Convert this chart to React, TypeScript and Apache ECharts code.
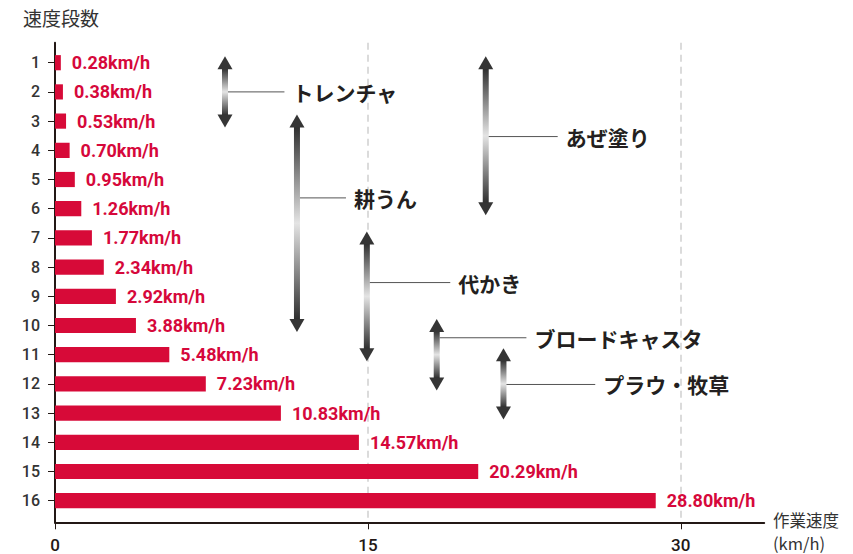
import React, { useEffect, useRef } from 'react';
import * as echarts from 'echarts';

// ---- data ----
const speedSteps = [1, 2, 3, 4, 5, 6, 7, 8, 9, 10, 11, 12, 13, 14, 15, 16];
const speedValues = [0.28, 0.38, 0.53, 0.7, 0.95, 1.26, 1.77, 2.34, 2.92, 3.88, 5.48, 7.23, 10.83, 14.57, 20.29, 28.8];
const xTickValues = [0, 15, 30];
const xAxisNameLines = ['作業速度', '(km/h)'];
const workNames = ['トレンチャ', '耕うん', 'あぜ塗り', '代かき', 'ブロードキャスタ', 'プラウ・牧草'];
const workStepFrom = [1, 3, 1, 7, 10, 11];
const workStepTo = [3, 10, 6, 11, 12, 13];

// ---- annotation layout (in axis units) ----
const arrowXs = [8.15, 11.6, 20.65, 14.95, 18.3, 21.5];
const leaderSteps = [2, 5.63, 3.53, 8.53, 10.42, 12.02];
const leaderEndXs = [11.0, 13.95, 24.1, 18.95, 22.6, 25.9];

export default function App() {
  const ref = useRef<HTMLDivElement>(null);

  useEffect(() => {
    const chart = echarts.init(ref.current!, undefined, { renderer: 'svg' });

    const barData = speedValues.map((v, i) => [v, speedSteps[i]]);
    const workData = workNames.map((n, i) => ({
      name: n,
      value: [arrowXs[i], workStepFrom[i], workStepTo[i], leaderSteps[i], leaderEndXs[i]],
    }));

    const nameStyle = {
      fill: '#333',
      fontSize: 16.5,
      lineHeight: 22,
      fontFamily: 'Noto Sans CJK JP',
    };

    chart.setOption({
      animation: false,
      backgroundColor: '#ffffff',
      title: {
        text: '速度段数',
        left: 23,
        top: 8,
        padding: 0,
        textStyle: { fontSize: 19, fontWeight: 'normal', color: '#333', fontFamily: 'Noto Sans CJK JP' },
      },
      graphic: [
        { type: 'text', left: 773, top: 509, style: { ...nameStyle, text: xAxisNameLines[0] } },
        { type: 'text', left: 773, top: 532, style: { ...nameStyle, text: xAxisNameLines[1] } },
      ],
      grid: { left: 55, right: 88.8, top: 42.7, bottom: 31.7 },
      xAxis: {
        type: 'value',
        min: 0,
        max: 34,
        interval: 15,
        axisLine: { show: true, lineStyle: { color: '#231815', width: 2 } },
        axisTick: { show: true, length: 7, customValues: xTickValues, lineStyle: { color: '#231815', width: 1 } },
        axisLabel: {
          customValues: xTickValues,
          margin: 14,
          fontSize: 17,
          fontWeight: 500,
          color: '#231815',
          fontFamily: 'Roboto',
        },
        splitLine: {
          show: true,
          showMinLine: false,
          showMaxLine: true,
          lineStyle: { type: [7, 5], color: '#d0d0d0', width: 1.5 },
        },
      },
      yAxis: {
        type: 'value',
        inverse: true,
        min: 0.315,
        max: 16.74,
        axisLine: { show: true, lineStyle: { color: '#231815', width: 2 } },
        axisTick: { show: true, length: 7, customValues: speedSteps, lineStyle: { color: '#231815', width: 1 } },
        axisLabel: {
          customValues: speedSteps,
          margin: 15,
          fontSize: 16,
          fontWeight: 500,
          color: '#333',
          fontFamily: 'Roboto',
        },
        splitLine: { show: false },
      },
      series: [
        {
          type: 'custom',
          name: 'speed',
          encode: { x: 0, y: 1 },
          data: barData,
          renderItem: (params: any, api: any) => {
            const v = api.value(0);
            const step = api.value(1);
            const p0 = api.coord([0, step]);
            const p1 = api.coord([v, step]);
            const h = api.size([0, 0.52])[1];
            return {
              type: 'group',
              children: [
                {
                  type: 'rect',
                  shape: { x: p0[0], y: p0[1] - h / 2, width: p1[0] - p0[0], height: h },
                  style: { fill: '#d70a38' },
                },
                {
                  type: 'text',
                  x: p1[0] + 11,
                  y: p1[1],
                  style: {
                    text: v.toFixed(2) + 'km/h',
                    fill: '#d6083b',
                    fontSize: 18,
                    fontWeight: 'bold',
                    fontFamily: 'Roboto',
                    align: 'left',
                    verticalAlign: 'middle',
                  },
                },
              ],
            };
          },
        },
        {
          type: 'custom',
          name: 'work',
          encode: { x: 0, y: 1 },
          data: workData,
          renderItem: (params: any, api: any) => {
            const x = api.value(0);
            const from = api.value(1);
            const to = api.value(2);
            const ls = api.value(3);
            const le = api.value(4);
            const top = api.coord([x, from]);
            const bot = api.coord([x, to]);
            const ax = top[0];
            const ty = top[1] - 6.5;
            const by = bot[1] + 6.5;
            const headH = 13;
            const headW = 15;
            const shaftW = 6;
            const leader = api.coord([le, ls]);
            const name = workNames[params.dataIndex];
            const grad = new echarts.graphic.LinearGradient(0, 0, 0, 1, [
              { offset: 0, color: '#2e2e2e' },
              { offset: 0.5, color: '#e4e4e4' },
              { offset: 1, color: '#2e2e2e' },
            ]);
            return {
              type: 'group',
              children: [
                {
                  type: 'rect',
                  shape: { x: ax - shaftW / 2, y: ty + headH - 1, width: shaftW, height: by - ty - 2 * headH + 2 },
                  style: { fill: grad },
                },
                {
                  type: 'polygon',
                  shape: { points: [[ax, ty], [ax - headW / 2, ty + headH], [ax + headW / 2, ty + headH]] },
                  style: { fill: '#353535' },
                },
                {
                  type: 'polygon',
                  shape: { points: [[ax, by], [ax - headW / 2, by - headH], [ax + headW / 2, by - headH]] },
                  style: { fill: '#353535' },
                },
                {
                  type: 'line',
                  shape: { x1: ax + shaftW / 2, y1: leader[1], x2: leader[0], y2: leader[1] },
                  style: { stroke: '#555', lineWidth: 1 },
                },
                {
                  type: 'text',
                  x: leader[0] + 8,
                  y: leader[1],
                  style: {
                    text: name,
                    fill: '#231f20',
                    fontSize: 21,
                    fontWeight: 'bold',
                    fontFamily: 'Noto Sans CJK JP',
                    align: 'left',
                    verticalAlign: 'middle',
                  },
                },
              ],
            };
          },
        },
      ],
    });

    return () => chart.dispose();
  }, []);

  return (
    <div
      ref={ref}
      style={{ position: 'fixed', left: 0, top: 0, width: 853, height: 554, background: '#fff' }}
    />
  );
}
